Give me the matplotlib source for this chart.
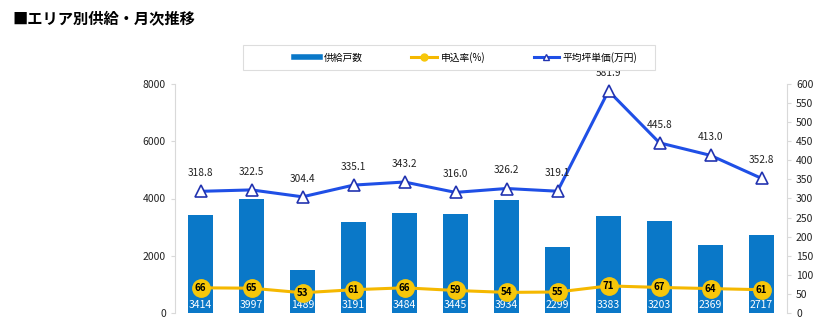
import matplotlib
matplotlib.use("Agg")
import matplotlib.pyplot as plt
from matplotlib.lines import Line2D
from matplotlib.patches import Rectangle

plt.rcParams['font.family'] = ['Noto Sans CJK JP', 'DejaVu Sans']

months = list(range(12))
supply = [3414, 3997, 1489, 3191, 3484, 3445, 3934, 2299, 3383, 3203, 2369, 2717]
rate = [66, 65, 53, 61, 66, 59, 54, 55, 71, 67, 64, 61]
price = [318.8, 322.5, 304.4, 335.1, 343.2, 316.0, 326.2, 319.1, 581.9, 445.8, 413.0, 352.8]
legend_labels = ["供給戸数", "申込率(%)", "平均坪単価(万円)"]
title = "■エリア別供給・月次推移"

bar_c = "#0a78c8"
rate_c = "#f5b800"
rate_mk = "#f7c70a"
price_c = "#1f4fe6"
price_edge = "#2233b0"
spine_c = "#d9d9d9"

fig = plt.figure(figsize=(8.3, 3.23), dpi=100)
ax = fig.add_axes([175/830, 1-313/323, (787-175)/830, (313-84)/323])
ax2 = ax.twinx()

ax.bar(months, supply, width=0.49, color=bar_c, zorder=1)
ax.set_xlim(-0.5, 11.5)
ax.set_ylim(0, 8000)
ax.set_yticks(range(0, 8001, 2000))
ax.set_xticks([])

ax2.set_ylim(0, 600)
ax2.set_yticks(range(0, 601, 50))

ax2.plot(months, rate, color=rate_c, lw=2.2, marker='o', markersize=12.5,
         markerfacecolor=rate_mk, markeredgecolor=rate_mk, zorder=3)
ax2.plot(months, price, color=price_c, lw=2.2, marker='^', markersize=8,
         markerfacecolor='white', markeredgecolor=price_edge, markeredgewidth=1.2, zorder=4)

for x, v in zip(months, rate):
    ax2.text(x, v, str(v), ha='center', va='center', fontsize=7, fontweight='bold',
             color='black', zorder=5)
for x, v in zip(months, price):
    ax2.annotate(f"{v:.1f}", (x, v), xytext=(0, 13), textcoords='offset points',
                 ha='center', va='center', fontsize=7.3, color='#222222', zorder=5)
for x, v in zip(months, supply):
    ax.annotate(str(v), (x, 0), xytext=(0, 6), textcoords='offset points',
                ha='center', va='center', fontsize=7.5, color='white', zorder=2)

for a in (ax, ax2):
    for s in ('top', 'bottom'):
        a.spines[s].set_visible(False)
    a.spines['left'].set_color(spine_c)
    a.spines['right'].set_color(spine_c)
    a.tick_params(axis='y', labelsize=7.5, colors='#222222', color=spine_c, length=3)
ax.spines['right'].set_visible(False)
ax2.spines['left'].set_visible(False)
ax.set_zorder(ax2.get_zorder() - 1)
ax2.patch.set_visible(False)

fig.text(12/830, 1-18/323, title, fontsize=11, fontweight='bold', va='center', ha='left')

# legend frame
fig.patches.append(Rectangle((243/830, 1-70/323), (655-243)/830, 25/323,
                             transform=fig.transFigure, facecolor='white',
                             edgecolor='#dddddd', linewidth=0.8))
handles = [Line2D([], [], color=bar_c, lw=4),
           Line2D([], [], color=rate_c, lw=2.2, marker='o', markersize=5, markerfacecolor=rate_mk,
                  markeredgecolor=rate_mk),
           Line2D([], [], color=price_c, lw=2.2, marker='^', markersize=5,
                  markerfacecolor='white', markeredgecolor=price_edge)]
leg = fig.legend(handles, legend_labels, loc='center', ncol=3,
                 bbox_to_anchor=(466/830, 1-57.5/323), fontsize=7,
                 frameon=False, columnspacing=5.0, handlelength=2.6,
                 borderpad=0.3, handletextpad=0.4)

fig.savefig("out.png", dpi=100)
